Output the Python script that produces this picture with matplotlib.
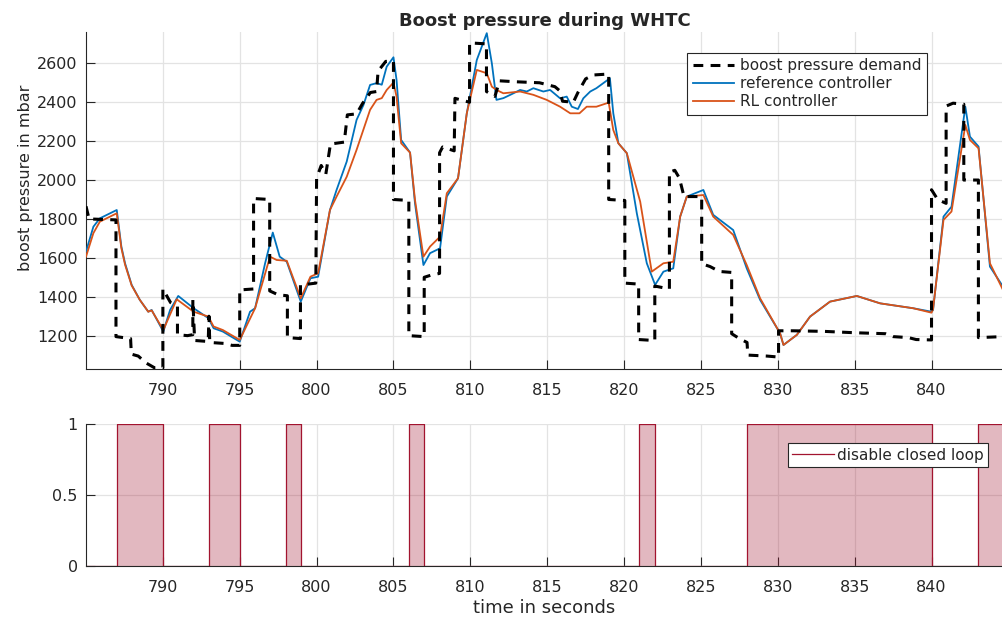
import numpy as np
import matplotlib.pyplot as plt

# boost pressure demand (step-like setpoint), time in s / pressure in mbar
demand_t = [785.0, 785.2, 786.95, 786.95, 787.9, 787.95, 788.4, 788.9, 789.45, 790.0,
            790.0, 790.5, 790.95, 790.95, 791.6, 791.95, 791.95, 792.05, 792.1, 792.95,
            793.0, 793.05, 794.0, 794.5, 795.0, 795.0, 795.9, 795.9, 796.95, 796.95,
            797.5, 798.1, 798.1, 798.95, 798.95, 799.95, 800.0, 800.3, 800.6, 800.9,
            801.8, 802.0, 802.6, 803.0, 803.5, 803.9, 804.0, 804.5, 805.0, 805.0,
            806.0, 806.0, 807.0, 807.0, 807.4, 808.0, 808.0, 808.2, 808.95, 809.0,
            809.95, 809.95, 811.05, 811.05, 811.6, 811.9, 813.0, 814.5, 815.5, 815.8,
            816.0, 816.7, 817.0, 817.5, 818.0, 819.0, 819.0, 820.05, 820.05, 820.95,
            820.95, 822.0, 822.0, 822.95, 822.95, 823.3, 823.6, 823.9, 825.05, 825.05,
            825.6, 826.2, 827.0, 827.0, 827.5, 828.0, 828.05, 829.3, 830.05, 830.05,
            831.0, 833.0, 835.0, 837.0, 837.5, 838.5, 839.0, 840.0, 840.0, 840.4,
            840.95, 840.95, 841.4, 842.1, 842.1, 843.05, 843.05, 844.65]
demand_p = [1865, 1800, 1795, 1195, 1185, 1105, 1095, 1060, 1035, 1035,
            1440, 1370, 1350, 1205, 1200, 1205, 1385, 1205, 1175, 1170,
            1300, 1165, 1160, 1150, 1150, 1435, 1440, 1905, 1900, 1430,
            1410, 1405, 1190, 1185, 1460, 1470, 2010, 2075, 2030, 2185,
            2195, 2335, 2340, 2395, 2450, 2455, 2560, 2610, 2610, 1900,
            1895, 1200, 1195, 1500, 1510, 1520, 2140, 2170, 2150, 2420,
            2400, 2705, 2700, 2455, 2430, 2510, 2505, 2500, 2480, 2460,
            2405, 2400, 2450, 2520, 2540, 2545, 1900, 1895, 1470, 1465,
            1180, 1175, 1455, 1440, 2040, 2050, 2010, 1915, 1915, 1570,
            1555, 1530, 1525, 1210, 1185, 1165, 1100, 1095, 1090, 1225,
            1225, 1222, 1215, 1210, 1195, 1190, 1180, 1178, 1950, 1900,
            1880, 2380, 2395, 2390, 2000, 2000, 1190, 1195]

# measured boost pressure with the reference controller
ref_t = [785.0, 785.48, 785.9, 787.0, 787.3, 787.54, 787.97, 788.5, 789.05, 789.27,
         790.03, 790.47, 791.0, 792.0, 792.96, 793.3, 793.9, 795.0, 795.67, 796.0,
         796.65, 797.15, 797.6, 798.06, 798.97, 799.6, 800.1, 800.87, 801.3, 801.96,
         802.6, 803.05, 803.48, 803.9, 804.24, 804.56, 805.0, 805.2, 805.5, 806.08,
         806.4, 806.95, 807.38, 808.03, 808.47, 809.2, 809.77, 810.42, 811.07, 811.4,
         811.7, 812.15, 812.6, 813.24, 813.67, 814.1, 814.75, 815.19, 815.84, 816.27,
         816.6, 817.0, 817.35, 817.8, 818.2, 819.08, 819.3, 819.63, 820.18, 820.83,
         821.48, 822.02, 822.56, 823.2, 823.65, 824.08, 825.16, 825.8, 827.1, 827.98,
         828.85, 830.15, 830.37, 831.24, 832.1, 833.4, 835.14, 836.66, 838.8, 840.0,
         840.1, 840.78, 841.3, 842.2, 842.5, 843.06, 843.8, 844.65]
ref_p = [1632, 1760, 1803, 1846, 1658, 1572, 1461, 1384, 1323, 1332,
         1221, 1332, 1404, 1341, 1290, 1238, 1221, 1169, 1323, 1341,
         1572, 1730, 1606, 1580, 1375, 1495, 1503, 1846, 1949, 2095,
         2309, 2386, 2489, 2498, 2490, 2583, 2631, 2515, 2206, 2141,
         1881, 1563, 1624, 1649, 1915, 2009, 2343, 2617, 2755, 2600,
         2412, 2421, 2438, 2463, 2455, 2472, 2455, 2463, 2420, 2429,
         2377, 2365, 2420, 2455, 2472, 2523, 2343, 2189, 2138, 1829,
         1572, 1461, 1529, 1546, 1812, 1915, 1949, 1821, 1743, 1546,
         1384, 1212, 1152, 1204, 1298, 1375, 1404, 1366, 1341, 1323,
         1332, 1812, 1863, 2377, 2223, 2172, 1555, 1452]

# measured boost pressure with the RL controller
rl_t = [785.0, 785.48, 785.9, 787.0, 787.3, 787.54, 787.97, 788.5, 789.05, 789.27,
        790.03, 790.9, 792.0, 792.96, 793.3, 793.9, 795.0, 796.0, 796.97, 797.4,
        798.06, 798.97, 799.6, 800.1, 800.87, 801.3, 801.96, 802.6, 803.48, 803.9,
        804.24, 804.56, 805.0, 805.2, 805.5, 806.08, 806.4, 806.95, 807.38, 808.03,
        808.47, 809.2, 809.77, 810.42, 811.07, 811.4, 811.7, 812.15, 813.24, 814.1,
        814.97, 815.84, 816.5, 817.1, 817.57, 818.2, 819.0, 819.3, 819.63, 820.18,
        821.05, 821.8, 822.56, 823.2, 823.65, 824.08, 825.16, 825.8, 827.1, 827.98,
        828.85, 830.15, 830.37, 831.24, 832.1, 833.4, 835.14, 836.66, 838.8, 840.0,
        840.1, 840.78, 841.3, 842.2, 842.5, 843.06, 843.8, 844.65]
rl_p = [1606, 1727, 1786, 1829, 1650, 1565, 1458, 1384, 1323, 1330,
        1229, 1387, 1323, 1298, 1247, 1229, 1178, 1341, 1606, 1589,
        1585, 1392, 1503, 1521, 1846, 1915, 2017, 2155, 2361, 2412,
        2421, 2463, 2501, 2429, 2189, 2141, 1898, 1606, 1658, 1709,
        1932, 2009, 2343, 2566, 2549, 2480, 2463, 2446, 2455, 2438,
        2412, 2377, 2343, 2343, 2377, 2377, 2398, 2257, 2189, 2138,
        1889, 1529, 1572, 1580, 1812, 1915, 1923, 1812, 1718, 1563,
        1392, 1212, 1152, 1204, 1298, 1375, 1404, 1366, 1341, 1318,
        1336, 1795, 1838, 2283, 2206, 2163, 1572, 1435]

# closed loop disable flag (switching instants and state after each instant)
switch_t = [785, 787, 790, 793, 795, 798, 799, 806, 807, 821, 822, 828, 840, 843, 845]
disable = [0, 1, 0, 1, 0, 1, 0, 1, 0, 1, 0, 1, 0, 1, 1]

xticks = [790, 795, 800, 805, 810, 815, 820, 825, 830, 835, 840]
pticks = [1200, 1400, 1600, 1800, 2000, 2200, 2400, 2600]

txt = '#262626'
grid_c = '#e3e3e3'
blue = '#0072BD'
orange = '#D95319'
wine = '#A2142F'

plt.rcParams['font.family'] = 'DejaVu Sans'
plt.rcParams['text.color'] = txt
plt.rcParams['axes.labelcolor'] = txt

fig = plt.figure(figsize=(10.03, 6.25), dpi=100)


def style_axes(ax):
    ax.spines['top'].set_visible(False)
    ax.spines['right'].set_visible(False)
    ax.spines['left'].set_color(txt)
    ax.spines['bottom'].set_color(txt)
    ax.tick_params(direction='in', length=6.5, width=0.8, color=txt,
                   labelcolor=txt, labelsize=11.5)
    ax.tick_params(axis='x', pad=10)
    ax.tick_params(axis='y', pad=6)
    ax.grid(True, color=grid_c, linewidth=0.9)
    ax.set_axisbelow(True)
    ax.set_xticks(xticks)
    ax.set_xlim(785, 844.65)


## top: boost pressure
ax1 = fig.add_axes([86 / 1003, 1 - 369.3 / 625, 917 / 1003, 337.3 / 625])
ax1.plot(demand_t, demand_p, color='black', linewidth=2.2, dashes=(3.2, 2.4),
         label='boost pressure demand', zorder=4)
ax1.plot(ref_t, ref_p, color=blue, linewidth=1.3, label='reference controller', zorder=3)
ax1.plot(rl_t, rl_p, color=orange, linewidth=1.3, label='RL controller', zorder=3)
style_axes(ax1)
ax1.set_ylim(1027, 2761)
ax1.set_yticks(pticks)
ax1.set_ylabel('boost pressure in mbar', fontsize=11.5)
ax1.yaxis.set_label_coords(-0.058, 0.567)
ax1.set_title('Boost pressure during WHTC', fontsize=13, fontweight='bold', pad=4)
leg1 = ax1.legend(loc='upper right', bbox_to_anchor=(0.917, 0.9386), borderaxespad=0,
                  fontsize=11, fancybox=False, framealpha=1, edgecolor=txt,
                  handlelength=2.7, handletextpad=0.4, borderpad=0.35, labelspacing=0.2)
leg1.get_frame().set_linewidth(0.8)

## bottom: disable closed loop flag
ax2 = fig.add_axes([86 / 1003, 1 - 566 / 625, 917 / 1003, 142 / 625])
ax2.fill_between(switch_t, disable, step='post', color=wine, alpha=0.3, linewidth=0)
ax2.step(switch_t, disable, where='post', color=wine, linewidth=0.9,
         label='disable closed loop')
style_axes(ax2)
ax2.set_ylim(0, 1)
ax2.set_yticks([0, 0.5, 1])
ax2.set_yticklabels(['0', '0.5', '1'])
ax2.set_xlabel('time in seconds', fontsize=13, labelpad=3)
leg2 = ax2.legend(loc='upper right', bbox_to_anchor=(0.9837, 0.866), borderaxespad=0,
                  fontsize=11, fancybox=False, framealpha=1, edgecolor=txt,
                  handlelength=2.7, handletextpad=0.2, borderpad=0.3)
leg2.get_frame().set_linewidth(0.8)

plt.savefig('out.png', dpi=100)
